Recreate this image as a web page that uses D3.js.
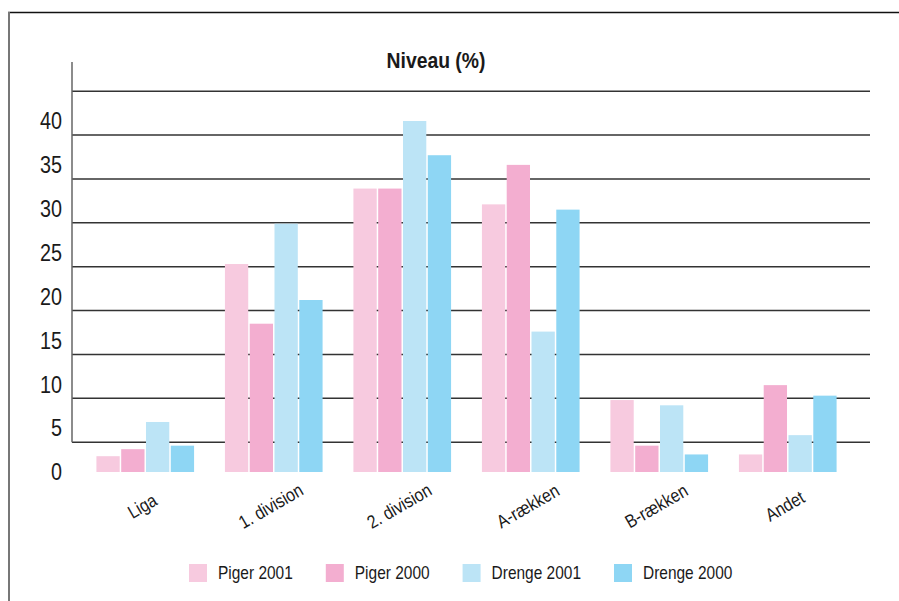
<!DOCTYPE html>
<html>
<head>
<meta charset="utf-8">
<script src="https://cdn.jsdelivr.net/npm/d3@7"></script>
<style>
  html, body { margin: 0; padding: 0; background: #fff; }
  svg { display: block; }
  text { font-family: "Liberation Sans", Arial, sans-serif; fill: #1a1a1a; }
</style>
</head>
<body>
<svg id="chart" width="899" height="601"></svg>
<script>
// Niveau (%) by league level, girls and boys, 2000 and 2001
const categories = ["Liga", "1. division", "2. division", "A-rækken", "B-rækken", "Andet"];
const seriesNames = ["Piger 2001", "Piger 2000", "Drenge 2001", "Drenge 2000"];
const piger2001  = [1.8, 23.7, 32.3, 30.5, 8.2, 2.0];
const piger2000  = [2.6, 16.9, 32.3, 35.0, 3.0, 9.9];
const drenge2001 = [5.7, 28.3, 40.0, 16.0, 7.6, 4.2];
const drenge2000 = [3.0, 19.6, 36.1, 29.9, 2.0, 8.7];
const seriesColors = ["#f7cadf", "#f3aed0", "#bce4f6", "#8ed6f4"];
const tickLabels = [0, 5, 10, 15, 20, 25, 30, 35, 40];
const gridTicks = [5, 10, 15, 20, 25, 30, 35, 40, 45];
const chartTitle = "Niveau (%)";

const seriesValues = [piger2001, piger2000, drenge2001, drenge2000];
const rows = categories.map((c, i) => ({
  category: c,
  values: seriesNames.map((s, j) => ({ series: s, value: seriesValues[j][i], color: seriesColors[j] }))
}));

// condensed lettering: regular sans squeezed horizontally
const narrow = 0.86;

const svg = d3.select("#chart");

// outer frame: top rule and left rule
svg.append("line").attr("x1", 8).attr("x2", 899).attr("y1", 12.5).attr("y2", 12.5)
  .attr("stroke", "#111").attr("stroke-width", 1.5);
svg.append("line").attr("x1", 9).attr("x2", 9).attr("y1", 12).attr("y2", 601)
  .attr("stroke", "#777").attr("stroke-width", 2);

const baseline = 472;
const y = d3.scaleLinear().domain([0, 45]).range([baseline, baseline - 45 * 8.775]);
const x = d3.scaleBand().domain(categories).range([72, 861]).paddingInner(0.24).paddingOuter(0.19);
const xs = d3.scaleBand().domain(seriesNames).range([0, x.bandwidth()]).paddingInner(0.06);

// horizontal rules sit a little below each tick value
const gridShift = 14;
svg.append("g").selectAll("line").data(gridTicks).join("line")
  .attr("x1", 72).attr("x2", 870)
  .attr("y1", d => y(d) + gridShift).attr("y2", d => y(d) + gridShift)
  .attr("stroke", "#333").attr("stroke-width", 1.5);

// vertical axis rule
svg.append("line").attr("x1", 72).attr("x2", 72)
  .attr("y1", 62).attr("y2", y(5) + gridShift)
  .attr("stroke", "#666").attr("stroke-width", 1.5);

// y tick labels
svg.append("g").selectAll("text").data(tickLabels).join("text")
  .attr("transform", d => `translate(62,${y(d)}) scale(${narrow},1)`)
  .attr("dy", "0.36em")
  .attr("text-anchor", "end").attr("font-size", 23)
  .text(d => d);

// bars
const groups = svg.append("g").selectAll("g").data(rows).join("g")
  .attr("transform", d => `translate(${x(d.category)},0)`);
groups.selectAll("rect").data(d => d.values).join("rect")
  .attr("x", d => xs(d.series)).attr("width", xs.bandwidth())
  .attr("y", d => y(d.value)).attr("height", d => baseline - y(d.value))
  .attr("fill", d => d.color);

// category labels, rotated
svg.append("g").selectAll("text").data(categories).join("text")
  .attr("transform", d => `translate(${x(d) + x.bandwidth() / 2 - 3},506) rotate(-30) scale(${narrow},1)`)
  .attr("text-anchor", "middle").attr("dy", "0.35em")
  .attr("font-size", 18.5)
  .text(d => d);

// title
svg.append("text")
  .attr("transform", `translate(436,60) scale(0.9,1)`)
  .attr("dy", "0.35em")
  .attr("text-anchor", "middle").attr("font-size", 21.5).attr("font-weight", "bold")
  .text(chartTitle);

// legend
const legend = svg.append("g").attr("transform", "translate(189,573)");
let lx = 0;
seriesNames.forEach((s, i) => {
  const g = legend.append("g").attr("transform", `translate(${lx},0)`);
  g.append("rect").attr("x", 0).attr("y", -9).attr("width", 18).attr("height", 18).attr("fill", seriesColors[i]);
  const t = g.append("text").attr("transform", `translate(29,0) scale(${narrow},1)`)
    .attr("dy", "0.35em").attr("font-size", 18).text(s);
  lx += 29 + t.node().getComputedTextLength() * narrow + 33;
});
</script>
</body>
</html>
